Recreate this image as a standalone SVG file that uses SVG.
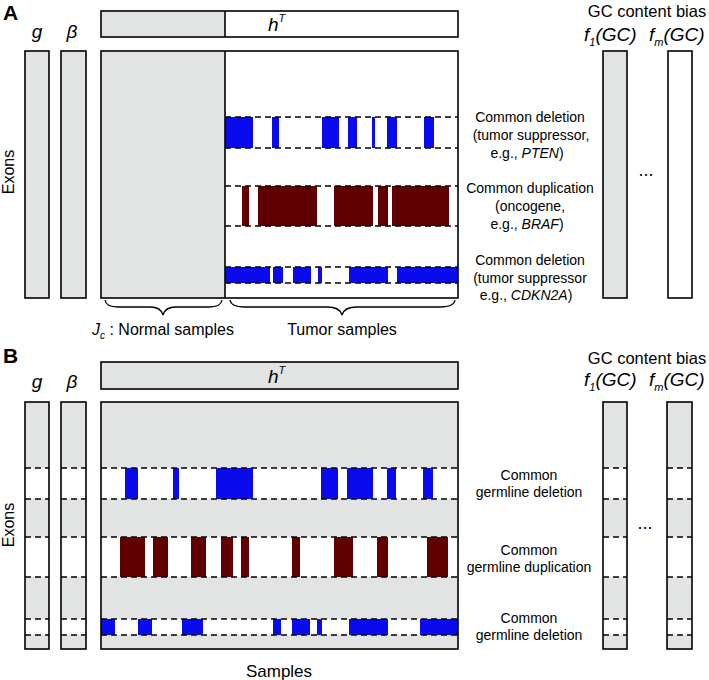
<svg xmlns="http://www.w3.org/2000/svg" width="709" height="680" viewBox="0 0 709 680">
<style>
text{font-family:"Liberation Sans",Arial,sans-serif;fill:#000}
.box{fill:none;stroke:#000;stroke-width:1.6}
.gray{fill:#e1e4e3}
.white{fill:#fff}
.blue{fill:#0a0aee}
.brown{fill:#600000}
.dash{stroke:#000;stroke-width:1.4;stroke-dasharray:6 4;fill:none}
.lab{font-size:14px;text-anchor:middle}
.it{font-style:italic}
.var{font-size:19px;font-style:italic;text-anchor:middle}
.panel{font-size:21px;font-weight:bold}
.title{font-size:16.5px;text-anchor:middle}
.gc{font-size:19px;font-style:italic}
.dots{font-size:18px;text-anchor:middle}
.brace{fill:none;stroke:#000;stroke-width:1.3}
.axis{font-size:16px;text-anchor:middle}
</style>
<rect width="709" height="680" fill="#fff"/>

<!-- ============ PANEL A ============ -->
<g id="panelA-label"><text class="panel" x="3" y="20">A</text></g>

<g id="A-g">
<text class="var" x="37" y="38">g</text>
<rect class="gray" x="25" y="51" width="24" height="247"/>
<rect class="box" x="25" y="51" width="24" height="247"/>
</g>
<g id="A-beta">
<text class="var" x="72" y="38">β</text>
<rect class="gray" x="61" y="51" width="25" height="247"/>
<rect class="box" x="61" y="51" width="25" height="247"/>
</g>

<g id="A-hT">
<rect class="gray" x="101" y="11" width="124" height="26"/>
<rect class="white" x="225" y="11" width="233" height="26"/>
<rect class="box" x="101" y="11" width="357" height="26"/>
<line x1="225" y1="11" x2="225" y2="37" stroke="#000" stroke-width="1.6"/>
<text class="gc" x="268" y="31">h<tspan font-size="11" dy="-9" font-style="italic">T</tspan></text>
</g>

<g id="A-matrix">
<rect class="gray" x="101" y="51" width="124" height="247"/>
<rect class="white" x="225" y="51" width="233" height="247"/>
<!-- band 1 deletion -->
<rect class="blue" x="225" y="117" width="28" height="31"/>
<rect class="blue" x="272" y="117" width="7" height="31"/>
<rect class="blue" x="322" y="117" width="17" height="31"/>
<rect class="blue" x="348" y="117" width="9" height="31"/>
<rect class="blue" x="372" y="117" width="3" height="31"/>
<rect class="blue" x="387" y="117" width="10" height="31"/>
<rect class="blue" x="424" y="117" width="10" height="31"/>
<!-- band 2 duplication -->
<rect class="brown" x="242" y="186" width="7" height="40"/>
<rect class="brown" x="258" y="186" width="59" height="40"/>
<rect class="brown" x="334" y="186" width="39" height="40"/>
<rect class="brown" x="378" y="186" width="10" height="40"/>
<rect class="brown" x="392" y="186" width="57" height="40"/>
<!-- band 3 deletion -->
<rect class="blue" x="225" y="267" width="45" height="16"/>
<rect class="blue" x="273" y="267" width="10" height="16"/>
<rect class="blue" x="293" y="267" width="18" height="16"/>
<rect class="blue" x="318" y="267" width="4" height="16"/>
<rect class="blue" x="349" y="267" width="39" height="16"/>
<rect class="blue" x="397" y="267" width="61" height="16"/>
<g class="dash">
<line x1="225" y1="117" x2="458" y2="117"/>
<line x1="225" y1="148" x2="458" y2="148"/>
<line x1="225" y1="186" x2="458" y2="186"/>
<line x1="225" y1="226" x2="458" y2="226"/>
<line x1="225" y1="267" x2="458" y2="267"/>
<line x1="225" y1="283" x2="458" y2="283"/>
</g>
<rect class="box" x="101" y="51" width="357" height="247"/>
<line x1="225" y1="51" x2="225" y2="298" stroke="#000" stroke-width="1.6"/>
</g>

<g id="A-labels">
<text class="lab" x="530" y="122">Common deletion</text>
<text class="lab" x="531" y="140">(tumor suppressor,</text>
<text class="lab" x="527" y="158">e.g., <tspan class="it">PTEN</tspan>)</text>
<text class="lab" x="530" y="193">Common duplication</text>
<text class="lab" x="530" y="211">(oncogene,</text>
<text class="lab" x="527" y="229">e.g., <tspan class="it">BRAF</tspan>)</text>
<text class="lab" x="530" y="265">Common deletion</text>
<text class="lab" x="530" y="283">(tumor suppressor</text>
<text class="lab" x="526" y="300">e.g., <tspan class="it">CDKN2A</tspan>)</text>
</g>

<g id="A-gc">
<text class="title" x="647" y="17">GC content bias</text>
<text class="gc" x="584" y="41">f<tspan font-size="11" dy="5">1</tspan><tspan dy="-5">(GC)</tspan></text>
<text class="gc" x="649" y="41">f<tspan font-size="11" dy="5">m</tspan><tspan dy="-5">(GC)</tspan></text>
<rect class="gray" x="603" y="51" width="24" height="247"/>
<rect class="box" x="603" y="51" width="24" height="247"/>
<rect class="white" x="668" y="51" width="24" height="247"/>
<rect class="box" x="668" y="51" width="24" height="247"/>
<text class="dots" x="646" y="176">...</text>
</g>

<g id="A-exons"><text class="axis" transform="translate(14,172) rotate(-90)">Exons</text></g>

<g id="connectors">
<path class="brace" d="M105,300 Q106,307 118,307 L150,307 Q161,307 163,315 Q165,307 176,307 L209,307 Q221,307 222,300"/>
<path class="brace" d="M230,300 Q231,307 245,307 L327,307 Q340,307 342,315 Q344,307 357,307 L440,307 Q454,307 455,300"/>
</g>

<g id="A-bottom">
<text x="92" y="335" font-size="16" font-style="italic">J<tspan font-size="10" dy="4">c</tspan><tspan font-style="normal" dy="-4"> : Normal samples</tspan></text>
<text x="342" y="335" font-size="16" text-anchor="middle">Tumor samples</text>
</g>

<!-- ============ PANEL B ============ -->
<g id="panelB-label"><text class="panel" x="3" y="363">B</text></g>

<g id="B-g">
<text class="var" x="37" y="388">g</text>
<rect class="gray" x="25" y="402" width="24" height="247"/>
<rect class="white" x="25" y="468" width="24" height="31"/>
<rect class="white" x="25" y="537" width="24" height="40"/>
<rect class="white" x="25" y="619" width="24" height="16"/>
<g class="dash">
<line x1="25" y1="468" x2="49" y2="468"/><line x1="25" y1="499" x2="49" y2="499"/>
<line x1="25" y1="537" x2="49" y2="537"/><line x1="25" y1="577" x2="49" y2="577"/>
<line x1="25" y1="619" x2="49" y2="619"/><line x1="25" y1="635" x2="49" y2="635"/>
</g>
<rect class="box" x="25" y="402" width="24" height="247"/>
</g>

<g id="B-beta">
<text class="var" x="72" y="388">β</text>
<rect class="gray" x="61" y="402" width="25" height="247"/>
<rect class="white" x="61" y="468" width="25" height="31"/>
<rect class="white" x="61" y="537" width="25" height="40"/>
<rect class="white" x="61" y="619" width="25" height="16"/>
<g class="dash">
<line x1="61" y1="468" x2="86" y2="468"/><line x1="61" y1="499" x2="86" y2="499"/>
<line x1="61" y1="537" x2="86" y2="537"/><line x1="61" y1="577" x2="86" y2="577"/>
<line x1="61" y1="619" x2="86" y2="619"/><line x1="61" y1="635" x2="86" y2="635"/>
</g>
<rect class="box" x="61" y="402" width="25" height="247"/>
</g>

<g id="B-hT">
<rect class="gray" x="101" y="362" width="357" height="27"/>
<rect class="box" x="101" y="362" width="357" height="27"/>
<text class="gc" x="268" y="383">h<tspan font-size="11" dy="-9" font-style="italic">T</tspan></text>
</g>

<g id="B-matrix">
<rect class="gray" x="101" y="402" width="357" height="247"/>
<rect class="white" x="101" y="468" width="357" height="31"/>
<rect class="white" x="101" y="537" width="357" height="40"/>
<rect class="white" x="101" y="619" width="357" height="16"/>
<!-- band 1 -->
<rect class="blue" x="125" y="468" width="13" height="31"/>
<rect class="blue" x="173" y="468" width="6" height="31"/>
<rect class="blue" x="216" y="468" width="37" height="31"/>
<rect class="blue" x="321" y="468" width="17" height="31"/>
<rect class="blue" x="347" y="468" width="26" height="31"/>
<rect class="blue" x="387" y="468" width="9" height="31"/>
<rect class="blue" x="423" y="468" width="10" height="31"/>
<!-- band 2 -->
<rect class="brown" x="120" y="537" width="25" height="40"/>
<rect class="brown" x="153" y="537" width="15" height="40"/>
<rect class="brown" x="191" y="537" width="15" height="40"/>
<rect class="brown" x="221" y="537" width="12" height="40"/>
<rect class="brown" x="241" y="537" width="8" height="40"/>
<rect class="brown" x="292" y="537" width="8" height="40"/>
<rect class="brown" x="334" y="537" width="19" height="40"/>
<rect class="brown" x="377" y="537" width="11" height="40"/>
<rect class="brown" x="427" y="537" width="21" height="40"/>
<!-- band 3 -->
<rect class="blue" x="101" y="619" width="14" height="16"/>
<rect class="blue" x="138" y="619" width="14" height="16"/>
<rect class="blue" x="182" y="619" width="21" height="16"/>
<rect class="blue" x="273" y="619" width="8" height="16"/>
<rect class="blue" x="292" y="619" width="18" height="16"/>
<rect class="blue" x="317" y="619" width="5" height="16"/>
<rect class="blue" x="349" y="619" width="39" height="16"/>
<rect class="blue" x="420" y="619" width="38" height="16"/>
<g class="dash">
<line x1="101" y1="468" x2="458" y2="468"/><line x1="101" y1="499" x2="458" y2="499"/>
<line x1="101" y1="537" x2="458" y2="537"/><line x1="101" y1="577" x2="458" y2="577"/>
<line x1="101" y1="619" x2="458" y2="619"/><line x1="101" y1="635" x2="458" y2="635"/>
</g>
<rect class="box" x="101" y="402" width="357" height="247"/>
</g>

<g id="B-labels">
<text class="lab" x="529" y="480">Common</text>
<text class="lab" x="529" y="497">germline deletion</text>
<text class="lab" x="529" y="555">Common</text>
<text class="lab" x="529" y="572">germline duplication</text>
<text class="lab" x="529" y="623">Common</text>
<text class="lab" x="529" y="640">germline deletion</text>
</g>

<g id="B-gc">
<text class="title" x="647" y="364">GC content bias</text>
<text class="gc" x="584" y="386">f<tspan font-size="11" dy="5">1</tspan><tspan dy="-5">(GC)</tspan></text>
<text class="gc" x="649" y="386">f<tspan font-size="11" dy="5">m</tspan><tspan dy="-5">(GC)</tspan></text>
</g>
<g id="B-f1">
<rect class="gray" x="603" y="402" width="24" height="247"/>
<rect class="white" x="603" y="468" width="24" height="31"/>
<rect class="white" x="603" y="537" width="24" height="40"/>
<rect class="white" x="603" y="619" width="24" height="16"/>
<g class="dash">
<line x1="603" y1="468" x2="627" y2="468"/><line x1="603" y1="499" x2="627" y2="499"/>
<line x1="603" y1="537" x2="627" y2="537"/><line x1="603" y1="577" x2="627" y2="577"/>
<line x1="603" y1="619" x2="627" y2="619"/><line x1="603" y1="635" x2="627" y2="635"/>
</g>
<rect class="box" x="603" y="402" width="24" height="247"/>
</g>
<g id="B-fm">
<rect class="gray" x="667" y="402" width="25" height="247"/>
<rect class="white" x="667" y="468" width="25" height="31"/>
<rect class="white" x="667" y="537" width="25" height="40"/>
<rect class="white" x="667" y="619" width="25" height="16"/>
<g class="dash">
<line x1="667" y1="468" x2="692" y2="468"/><line x1="667" y1="499" x2="692" y2="499"/>
<line x1="667" y1="537" x2="692" y2="537"/><line x1="667" y1="577" x2="692" y2="577"/>
<line x1="667" y1="619" x2="692" y2="619"/><line x1="667" y1="635" x2="692" y2="635"/>
</g>
<rect class="box" x="667" y="402" width="25" height="247"/>
</g>
<g id="B-dots"><text class="dots" x="645" y="529">...</text></g>

<g id="B-exons"><text class="axis" transform="translate(14,525) rotate(-90)">Exons</text></g>
<g id="B-samples"><text x="279" y="677" font-size="17" text-anchor="middle">Samples</text></g>
</svg>
